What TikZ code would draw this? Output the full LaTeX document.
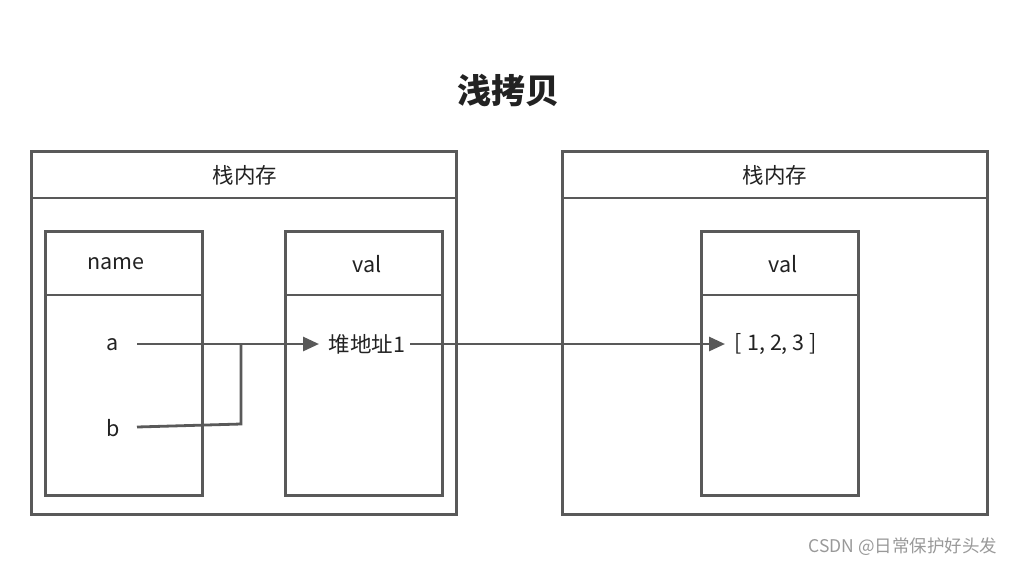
\documentclass[tikz,border=0pt]{standalone}
\usepackage{fontspec}
\setmainfont{Noto Sans CJK SC}
\usetikzlibrary{arrows.meta}
\definecolor{linegray}{HTML}{595959}
\definecolor{txt}{HTML}{222222}
\tikzset{
  box/.style={draw=linegray, line width=2.8pt, fill=white, inner sep=0pt, anchor=north west},
  lbl/.style={text=txt, font=\fontsize{21.5}{24}\selectfont, inner sep=0pt},
  conn/.style={draw=linegray, line width=2.8pt},
  tip/.style={-{Triangle[length=16pt,width=14pt]}}
}
\begin{document}
\begin{tikzpicture}[x=1pt,y=-1pt]
\useasboundingbox (0,0) rectangle (1024,566);
% title
\node[text=txt, font=\bfseries\fontsize{34}{38}\selectfont] (title) at (508,90) {浅拷贝};
% left outer
\node[box, minimum width=425pt, minimum height=363pt] (L) at (30,150) {};
\draw[conn] (30,198) -- (455,198);
\node[lbl] (Lh) at (245,175) {栈内存};
% right outer
\node[box, minimum width=425pt, minimum height=363pt] (R) at (561,150) {};
\draw[conn] (561,198) -- (986,198);
\node[lbl] (Rh) at (775,175) {栈内存};
% inner boxes
\node[box, minimum width=157pt, minimum height=264pt] (nm) at (44,230) {};
\draw[conn] (44,295) -- (201,295);
\node[lbl] (nmh) at (116,264) {name};
\node[box, minimum width=157pt, minimum height=264pt] (v1) at (284,230) {};
\draw[conn] (284,295) -- (441,295);
\node[lbl] (v1h) at (367,264) {val};
\node[box, minimum width=157pt, minimum height=264pt] (v2) at (700,230) {};
\draw[conn] (700,295) -- (857,295);
\node[lbl] (v2h) at (783,264) {val};
% contents
\node[lbl] (a) at (113,345) {a};
\node[lbl] (b) at (113,428) {b};
\node[lbl] (heap) at (367,344) {堆地址1};
\node[lbl] (arr) at (776,344) {[\hspace{5pt}1,\hspace{5pt}2,\hspace{5pt}3\hspace{5pt}]};
\coordinate (aS) at (137,344);
\coordinate (bS) at (137,427);
\coordinate (j) at (241,424);
\coordinate (j2) at (241,344);
% connectors
\draw[conn, tip] (aS) -- (heap.west -| 319,0) ;
\draw[conn] (bS) -- (j) -- (j2);
\draw[conn, tip] (heap.east) ++(5pt,0) -- (arr.west -| 725,0);
% watermark
\node[text=black!40, font=\fontsize{17.5}{20}\selectfont, inner sep=0pt] (wm) at (903,547) {CSDN @日常保护好头发};
\end{tikzpicture}
\end{document}
